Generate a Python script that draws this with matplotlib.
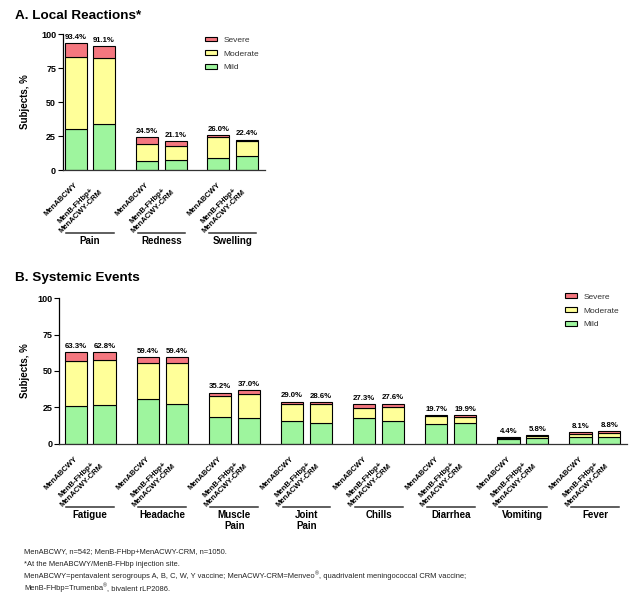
import numpy as np
import matplotlib
matplotlib.use("Agg")
import matplotlib.pyplot as plt
from matplotlib.patches import Patch
from matplotlib.transforms import ScaledTranslation

plt.rcParams['font.family'] = ['Liberation Sans', 'DejaVu Sans']

vaccines = ['MenABCWY', 'MenB-FHbp+\nMenACWY-CRM']

# local reactions: per group, MenABCWY then MenB-FHbp+MenACWY-CRM
local_groups = ['Pain', 'Redness', 'Swelling']
local_mild = [30.5, 34.0, 6.5, 7.0, 8.5, 10.5]
local_moderate = [52.5, 48.0, 12.5, 11.0, 16.0, 11.0]
local_total = [93.4, 91.1, 24.5, 21.1, 26.0, 22.4]

# systemic events
sys_groups = ['Fatigue', 'Headache', 'Muscle\nPain', 'Joint\nPain',
              'Chills', 'Diarrhea', 'Vomiting', 'Fever']
sys_mild = [26.0, 26.5, 31.0, 27.0, 18.5, 18.0, 15.5, 14.0,
            17.5, 15.6, 13.3, 14.0, 3.5, 4.2, 4.5, 4.5]
sys_moderate = [31.0, 31.0, 24.5, 28.5, 14.5, 16.0, 12.0, 13.0,
                6.8, 9.9, 5.7, 4.4, 0.7, 1.2, 2.0, 2.7]
sys_total = [63.3, 62.8, 59.4, 59.4, 35.2, 37.0, 29.0, 28.6,
             27.3, 27.6, 19.7, 19.9, 4.4, 5.8, 8.1, 8.8]

yticks = [0, 25, 50, 75, 100]

c_severe = '#F4777F'
c_moderate = '#FFFF99'
c_mild = '#9EF59E'

W, H = 630, 595
fig = plt.figure(figsize=(W / 100, H / 100), dpi=100)


def px_axes(left, top, right, bottom):
    return fig.add_axes([left / W, 1 - bottom / H, (right - left) / W, (bottom - top) / H])


def shift(ax, dx, dy):
    # offset in pixels from a blended (data x, axes y) position
    return ax.get_xaxis_transform() + ScaledTranslation(dx / 100, dy / 100, fig.dpi_scale_trans)


def panel(ax, groups, mild, moderate, total, xlim, legend_xy):
    mild = np.array(mild)
    moderate = np.array(moderate)
    total = np.array(total)
    severe = total - mild - moderate
    x = np.array([i * 2.5 + j for i in range(len(groups)) for j in range(2)])
    w = 0.77
    kw = dict(width=w, edgecolor='black', linewidth=0.8)
    ax.bar(x, mild, color=c_mild, **kw)
    ax.bar(x, moderate, bottom=mild, color=c_moderate, **kw)
    ax.bar(x, severe, bottom=mild + moderate, color=c_severe, **kw)

    for xi, t in zip(x, total):
        ax.annotate(f'{t:.1f}%', (xi, t), xytext=(0, 1.5), textcoords='offset points',
                    ha='center', va='bottom', fontsize=5.6, fontweight='bold')

    ax.set_xlim(*xlim)
    ax.set_ylim(0, 100)
    ax.set_yticks(yticks)
    ax.set_yticklabels([str(v) for v in yticks], fontsize=6.5, fontweight='bold')
    ax.tick_params(axis='y', length=3.5, width=0.8, pad=1.5)
    ax.set_xticks([])
    for s in ['top', 'right']:
        ax.spines[s].set_visible(False)
    ax.spines['left'].set_linewidth(0.9)
    ax.spines['bottom'].set_linewidth(0.9)
    ax.spines['bottom'].set_color('#333333')

    # rotated bar labels
    for k, xi in enumerate(x):
        if k % 2 == 0:
            ax.text(xi, 0, vaccines[0], transform=shift(ax, 1, -14), rotation=45,
                    rotation_mode='anchor', ha='right', va='center',
                    fontsize=5.5, fontweight='bold')
        else:
            ax.text(xi, 0, vaccines[1], transform=shift(ax, -5, -18.5), rotation=45,
                    rotation_mode='anchor', ha='right', va='center',
                    multialignment='center', fontsize=5.5, fontweight='bold',
                    linespacing=1.15)

    # group underlines and names
    for i, g in enumerate(groups):
        x0 = i * 2.5
        ax.plot([x0 - 0.33, x0 + 1.33], [0, 0], color='#333333', lw=1.1,
                transform=shift(ax, 0, -63), clip_on=False)
        ax.text(x0 + 0.5, 0, g, transform=shift(ax, 0, -66.5), ha='center', va='top',
                fontsize=7, fontweight='bold', linespacing=1.1)

    ax.set_ylabel('Subjects, %', fontsize=7, fontweight='bold')

    handles = [Patch(facecolor=c_severe, edgecolor='black', lw=0.8, label='Severe'),
               Patch(facecolor=c_moderate, edgecolor='black', lw=0.8, label='Moderate'),
               Patch(facecolor=c_mild, edgecolor='black', lw=0.8, label='Mild')]
    leg = ax.legend(handles=handles, loc='upper left',
                    bbox_to_anchor=(legend_xy[0] / W, 1 - legend_xy[1] / H),
                    bbox_transform=fig.transFigure, frameon=False, fontsize=6,
                    handlelength=1.45, handleheight=0.45, handletextpad=0.8,
                    labelspacing=0.8, borderpad=0, borderaxespad=0)
    for t in leg.get_texts():
        t.set_color('#333333')


axA = px_axes(63, 34, 265, 170)
panel(axA, local_groups, local_mild, local_moderate, local_total, (-0.44, 6.63), (205, 36.5))
axA.yaxis.set_label_coords((30 - 63) / 202, 0.5)

axB = px_axes(59.3, 298.3, 626.7, 443.7)
panel(axB, sys_groups, sys_mild, sys_moderate, sys_total, (-0.57, 19.1), (565, 293.5))
axB.yaxis.set_label_coords((30 - 59.3) / 567.4, 0.5)

fig.text(15 / W, 1 - 16 / H, 'A. Local Reactions*', fontsize=9.7, fontweight='bold', va='center')
fig.text(15 / W, 1 - 278 / H, 'B. Systemic Events', fontsize=9.7, fontweight='bold', va='center')

# footnotes; registered marks are set as small raised pieces
notes = [
    ['MenABCWY, n=542; MenB-FHbp+MenACWY-CRM, n=1050.'],
    ['*At the MenABCWY/MenB-FHbp injection site.'],
    ['MenABCWY=pentavalent serogroups A, B, C, W, Y vaccine; MenACWY-CRM=Menveo', '®',
     ', quadrivalent meningococcal CRM vaccine;'],
    ['MenB-FHbp=Trumenba', '®', ', bivalent rLP2086.'],
]
renderer = fig.canvas.get_renderer()
for k, parts in enumerate(notes):
    xpx = 24
    ypx = 553 + 11.8 * k
    for j, part in enumerate(parts):
        sup = j % 2 == 1
        t = fig.text(xpx / W, 1 - (ypx - (3 if sup else 0)) / H, part,
                     fontsize=3.9 if sup else 5.45, va='center', color='#222222')
        xpx += t.get_window_extent(renderer).width

fig.savefig('out.png', dpi=100)
